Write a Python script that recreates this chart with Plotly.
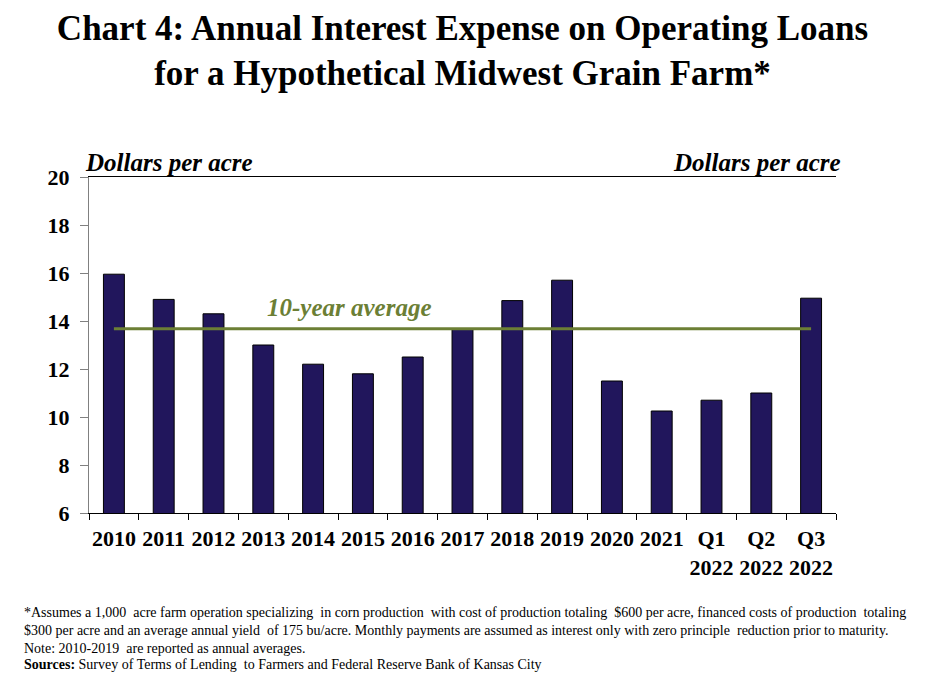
import plotly.graph_objects as go

CATEGORIES = ["2010", "2011", "2012", "2013", "2014", "2015", "2016", "2017",
              "2018", "2019", "2020", "2021", "Q1<br>2022", "Q2<br>2022", "Q3<br>2022"]
INTEREST_EXPENSE = [15.95, 14.9, 14.3, 13.0, 12.2, 11.8, 12.5, 13.65,
                    14.85, 15.7, 11.5, 10.25, 10.7, 11.0, 14.95]
TEN_YEAR_AVG = 13.68
Y_TICKS = [6, 8, 10, 12, 14, 16, 18, 20]

FOOTNOTES = [
    "*Assumes a 1,000  acre farm operation specializing  in corn production  with cost of production totaling  $600 per acre, financed costs of production  totaling",
    "$300 per acre and an average annual yield  of 175 bu/acre. Monthly payments are assumed as interest only with zero principle  reduction prior to maturity.",
    "Note: 2010-2019  are reported as annual averages.",
    "<b>Sources:</b> Survey of Terms of Lending  to Farmers and Federal Reserve Bank of Kansas City",
]

COLOR_BAR = "#21165c"
COLOR_AVG = "#6c7f35"
SERIF = "Liberation Serif"

fig = go.Figure()

fig.add_trace(go.Bar(
    x=CATEGORIES, y=INTEREST_EXPENSE,
    marker=dict(color=COLOR_BAR, line=dict(color="#000000", width=1)),
    width=0.42, showlegend=False,
))

fig.add_trace(go.Scatter(
    x=CATEGORIES, y=[TEN_YEAR_AVG] * len(CATEGORIES),
    mode="lines", line=dict(color=COLOR_AVG, width=3), showlegend=False,
))

fig.add_annotation(
    x=0.349, xref="paper", y=14.55, yref="y",
    text="<b><i>10-year average</i></b>", showarrow=False,
    font=dict(family=SERIF, size=25, color=COLOR_AVG),
)

fig.add_annotation(
    x=-0.008, xref="paper", y=1.042, yref="paper",
    text="<b><i>Dollars per acre</i></b>", showarrow=False,
    xanchor="left", yanchor="middle",
    font=dict(family=SERIF, size=25, color="#000000"),
)
fig.add_annotation(
    x=1.009, xref="paper", y=1.042, yref="paper",
    text="<b><i>Dollars per acre</i></b>", showarrow=False,
    xanchor="right", yanchor="middle",
    font=dict(family=SERIF, size=25, color="#000000"),
)

foot_y = [-0.2976, -0.351, -0.402, -0.452]
for line, fy in zip(FOOTNOTES, foot_y):
    fig.add_annotation(
        x=-0.0897, xref="paper", y=fy, yref="paper",
        text=line, showarrow=False, xanchor="left", yanchor="middle",
        font=dict(family=SERIF, size=14, color="#000000"),
    )

tick_font = dict(family=SERIF, size=22, color="#000000", weight="bold")

fig.update_layout(
    title=dict(
        text="<b>Chart 4: Annual Interest Expense on Operating Loans<br>"
             "for a Hypothetical Midwest Grain Farm*</b>",
        x=0.5, xanchor="center", y=0.943, yanchor="middle", yref="container",
        font=dict(family=SERIF, size=35, color="#000000"),
    ),
    width=925, height=693,
    paper_bgcolor="#ffffff", plot_bgcolor="#ffffff",
    margin=dict(l=89, r=89, t=177, b=180),
    bargap=0.58,
    font=dict(family=SERIF, color="#000000"),
    xaxis=dict(
        type="category", showgrid=False, automargin=False, tickangle=0,
        showline=True, linecolor="#000000", linewidth=1, mirror=True,
        ticks="outside", tickson="boundaries", ticklen=6, tickcolor="#000000",
        tickfont=tick_font, ticklabelstandoff=6,
    ),
    yaxis=dict(
        range=[6, 20], tickvals=Y_TICKS, showgrid=False, zeroline=False,
        automargin=False,
        showline=True, linecolor="#808080", linewidth=1,
        ticks="outside", ticklen=8, tickcolor="#808080",
        tickfont=tick_font, ticklabelstandoff=6,
    ),
    yaxis2=dict(
        range=[6, 20], tickvals=Y_TICKS, overlaying="y", side="right",
        showgrid=False, zeroline=False, automargin=False,
        showline=True, linecolor="#808080", linewidth=1,
        ticks="outside", ticklen=8, tickcolor="#808080",
        tickfont=tick_font, ticklabelstandoff=6,
    ),
)

fig.write_html("out.html", config={"displayModeBar": False},
               post_script="document.body.style.margin='0';")
